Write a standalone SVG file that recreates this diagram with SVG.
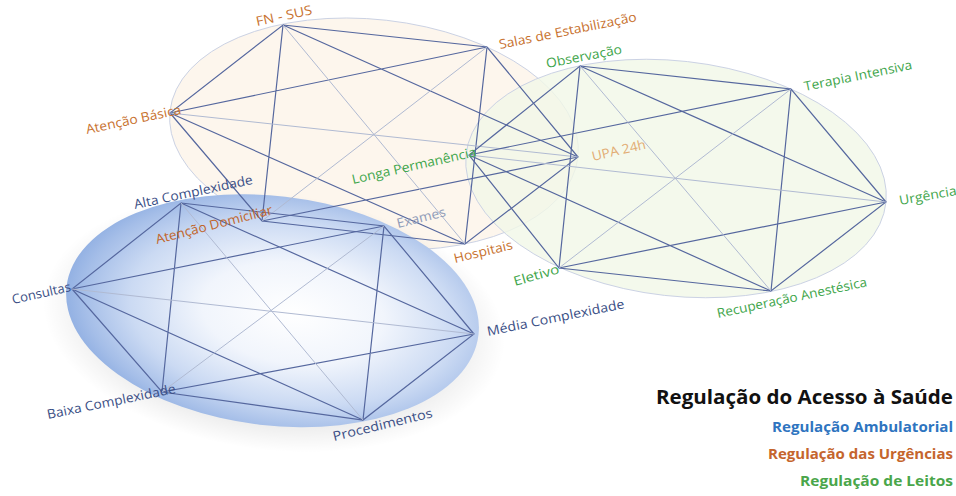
<svg xmlns="http://www.w3.org/2000/svg" width="956" height="496" viewBox="0 0 956 496">
<defs>
<radialGradient id="blueGrad" cx="0.55" cy="0.5" r="0.55">
<stop offset="0" stop-color="#ffffff"/>
<stop offset="0.4" stop-color="#f1f5fc"/>
<stop offset="0.72" stop-color="#cbdaf3"/>
<stop offset="0.92" stop-color="#a5bee8"/>
<stop offset="1" stop-color="#93b1e3"/>
</radialGradient>
<radialGradient id="shadowGrad" cx="0.5" cy="0.5" r="0.5">
<stop offset="0.8" stop-color="#000000" stop-opacity="0.07"/>
<stop offset="1" stop-color="#000000" stop-opacity="0"/>
</radialGradient>
<style>
.ring{stroke:#cbd2e4;stroke-width:1;vector-effect:non-scaling-stroke}
.e{stroke:#55679e;stroke-width:1.2;fill:none}
.l{stroke:#b0bad2;stroke-width:1;fill:none}
.lbl{font-family:"Open Sans","Liberation Sans",sans-serif;font-size:13px}
.or{fill:#c8722f}
.gr{fill:#3fa64c}
.bl{fill:#3b4f86}
.leg{font-family:"Open Sans","Liberation Sans",sans-serif;font-weight:700;text-anchor:end}
</style>
</defs>
<rect width="956" height="496" fill="#ffffff"/>

<g id="ellipses">
<circle r="1" class="ring" fill="#fdf5ea" fill-opacity="0.85" transform="matrix(204 23 -12.7 113.7 374 134)"/>
<circle r="1" class="ring" fill="#f1f8e7" fill-opacity="0.8" transform="matrix(210 23.5 -11.5 116.9 676 178.5)"/>
<circle r="1.12" fill="url(#shadowGrad)" transform="matrix(206 24 -12.8 114 274 322)"/>
<circle r="1" fill="url(#blueGrad)" transform="matrix(206 24 -12.8 114 272.5 310.7)"/>
</g>

<g id="connectors">
<g id="edges-urgencias">
<path class="e" d="M283,25L487,47L578,157L465,244L262,221L170,113Z"/>
<path class="e" d="M283,25L578,157M487,47L465,244M578,157L262,221M465,244L170,113M262,221L283,25M170,113L487,47"/>
<path class="l" d="M283,25L465,244M487,47L262,221M578,157L170,113"/>
</g>
<g id="edges-leitos">
<path class="e" d="M580,66L791,89L886,202L771,291L559,268L469,155Z"/>
<path class="e" d="M580,66L886,202M791,89L771,291M886,202L559,268M771,291L469,155M559,268L580,66M469,155L791,89"/>
<path class="l" d="M580,66L771,291M791,89L559,268M886,202L469,155"/>
</g>
<g id="edges-ambulatorial">
<path class="e" d="M181,203L384,226L474,334L363,420L162,392L72,289Z"/>
<path class="e" d="M181,203L474,334M384,226L363,420M474,334L162,392M363,420L72,289M162,392L181,203M72,289L384,226"/>
<path class="l" d="M181,203L363,420M384,226L162,392M474,334L72,289"/>
</g>
</g>

<g id="node-fn-sus"><text class="lbl or" transform="translate(257,26) rotate(-12)" textLength="57" lengthAdjust="spacingAndGlyphs">FN - SUS</text></g>
<g id="node-salas"><text class="lbl or" transform="translate(500,49) rotate(-11.5)" textLength="140" lengthAdjust="spacingAndGlyphs">Salas de Estabilização</text></g>
<g id="node-upa"><text class="lbl" fill="#e2ac73" transform="translate(593,161) rotate(-13)" textLength="55" lengthAdjust="spacingAndGlyphs">UPA 24h</text></g>
<g id="node-hospitais"><text class="lbl or" transform="translate(455,263) rotate(-13.5)" textLength="60" lengthAdjust="spacingAndGlyphs">Hospitais</text></g>
<g id="node-atencao-domiciliar"><text class="lbl" fill="#c1652b" transform="translate(157,244) rotate(-14.5)" textLength="120" lengthAdjust="spacingAndGlyphs">Atenção Domiciliar</text></g>
<g id="node-atencao-basica"><text class="lbl or" transform="translate(87,134) rotate(-12)" textLength="97" lengthAdjust="spacingAndGlyphs">Atenção Básica</text></g>

<g id="node-observacao"><text class="lbl gr" transform="translate(547,68) rotate(-11)" textLength="77" lengthAdjust="spacingAndGlyphs">Observação</text></g>
<g id="node-terapia"><text class="lbl gr" transform="translate(805,91) rotate(-11.5)" textLength="110" lengthAdjust="spacingAndGlyphs">Terapia Intensiva</text></g>
<g id="node-urgencia"><text class="lbl gr" transform="translate(900,205) rotate(-10)" textLength="58" lengthAdjust="spacingAndGlyphs">Urgência</text></g>
<g id="node-recuperacao"><text class="lbl gr" transform="translate(718,318) rotate(-12)" textLength="153" lengthAdjust="spacingAndGlyphs">Recuperação Anestésica</text></g>
<g id="node-eletivo"><text class="lbl gr" transform="translate(515,286) rotate(-16)" textLength="47" lengthAdjust="spacingAndGlyphs">Eletivo</text></g>
<g id="node-longa"><text class="lbl gr" transform="translate(353,184) rotate(-12.7)" textLength="127" lengthAdjust="spacingAndGlyphs">Longa Permanência</text></g>

<g id="node-alta"><text class="lbl bl" transform="translate(135,209) rotate(-12)" textLength="121" lengthAdjust="spacingAndGlyphs">Alta Complexidade</text></g>
<g id="node-exames"><text class="lbl" fill="#8f9bb8" transform="translate(398,228) rotate(-14)" textLength="50" lengthAdjust="spacingAndGlyphs">Exames</text></g>
<g id="node-media"><text class="lbl bl" transform="translate(488,336) rotate(-11.5)" textLength="140" lengthAdjust="spacingAndGlyphs">Média Complexidade</text></g>
<g id="node-procedimentos"><text class="lbl bl" transform="translate(334,441) rotate(-13.6)" textLength="102" lengthAdjust="spacingAndGlyphs">Procedimentos</text></g>
<g id="node-baixa"><text class="lbl bl" transform="translate(48,419) rotate(-11.5)" textLength="131" lengthAdjust="spacingAndGlyphs">Baixa Complexidade</text></g>
<g id="node-consultas"><text class="lbl bl" transform="translate(13,304) rotate(-12.5)" textLength="60" lengthAdjust="spacingAndGlyphs">Consultas</text></g>

<g id="legend">
<text class="leg" x="953" y="404" font-size="20" font-weight="600" fill="#111111" textLength="297" lengthAdjust="spacingAndGlyphs">Regulação do Acesso à Saúde</text>
<text class="leg" x="953" y="432" font-size="15" fill="#2e74c0" textLength="181" lengthAdjust="spacingAndGlyphs">Regulação Ambulatorial</text>
<text class="leg" x="953" y="459" font-size="15" fill="#c5652d" textLength="185" lengthAdjust="spacingAndGlyphs">Regulação das Urgências</text>
<text class="leg" x="953" y="486" font-size="15" fill="#4aa64a" textLength="153" lengthAdjust="spacingAndGlyphs">Regulação de Leitos</text>
</g>
</svg>
